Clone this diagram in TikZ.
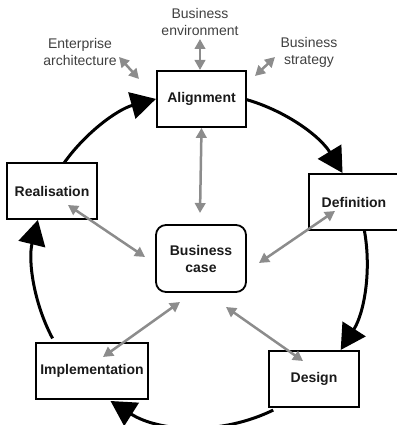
\documentclass[tikz,border=0pt]{standalone}
\usepackage{fontspec}
\setmainfont{Liberation Sans}
\usetikzlibrary{arrows.meta}
\definecolor{garrowc}{HTML}{8C8C8C}
\definecolor{labelc}{HTML}{404040}
\definecolor{boxtext}{HTML}{1A1A1A}
\begin{document}
\begin{tikzpicture}[x=1pt,y=1pt,
  stage/.style={draw=black, line width=1.8pt, fill=white, inner sep=0pt,
    minimum height=56pt, text=boxtext, font=\fontsize{14}{17}\selectfont\bfseries, align=center},
  hub/.style={stage, rounded corners=10pt, minimum width=90pt, minimum height=67pt},
  outlabel/.style={text=labelc, font=\fontsize{14}{17}\selectfont, align=center, inner sep=0pt},
  garrow/.style={draw=garrowc, line width=2.5pt, {Triangle[length=10pt,width=10.5pt]}-{Triangle[length=10pt,width=10.5pt]}},
  cycle arc/.style={draw=black, line width=3pt, -{Triangle[length=25pt,width=27pt]}}
]
\useasboundingbox (0,0) rectangle (396,425);
\coordinate (c) at (200,165);

% cycle arcs
\draw[cycle arc] ([shift={(146:167pt)}]c) arc[start angle=146, end angle=105.3, radius=167pt];
\draw[cycle arc] ([shift={(76:167pt)}]c) arc[start angle=76, end angle=31.4, radius=167pt];
\draw[cycle arc] ([shift={(12:167pt)}]c) arc[start angle=12, end angle=-32.6, radius=167pt];
\draw[cycle arc] ([shift={(-64:167pt)}]c) arc[start angle=-64, end angle=-122.4, radius=167pt];
\draw[cycle arc] ([shift={(-152:167pt)}]c) arc[start angle=-152, end angle=-193.9, radius=167pt];

% boxes
\node[stage, minimum width=89pt] (align) at (201.5,326) {Alignment};
\node[hub] (bc) at (201,166.5) {Business\\case};
\node[stage, minimum width=90pt] (real) at (52,234) {Realisation};
\node[stage, minimum width=90pt] (def) at (354,223) {Definition};
\node[stage, minimum width=112pt] (impl) at (92,54) {Implementation};
\node[stage, minimum width=90pt] (design) at (314,46) {Design};

% outer labels
\node[outlabel] (env) at (200,403) {Business\\environment};
\node[outlabel] (ea) at (80,373) {Enterprise\\architecture};
\node[outlabel] (strat) at (309,373) {Business\\strategy};

% gray arrow end points
\coordinate (ea1) at (119,368);
\coordinate (ea2) at (139,346);
\coordinate (env1) at (200,386);
\coordinate (env2) at (200,355);
\coordinate (st1) at (275,368);
\coordinate (st2) at (255,349);
\coordinate (ab2) at (200,212);
\coordinate (re1) at (68,220);
\coordinate (re2) at (145,168);
\coordinate (de1) at (335,214);
\coordinate (de2) at (259,162);
\coordinate (im1) at (180,123);
\coordinate (im2) at (103,68);
\coordinate (ds1) at (226,118);
\coordinate (ds2) at (303,64);

% gray arrows
\draw[garrow] (ea1) -- (ea2);
\draw[garrow] (env1) -- (env2);
\draw[garrow] (st1) -- (st2);
\draw[garrow] (align.south) -- (ab2);
\draw[garrow] (re1) -- (re2);
\draw[garrow] (de1) -- (de2);
\draw[garrow] (im1) -- (im2);
\draw[garrow] (ds1) -- (ds2);
\end{tikzpicture}
\end{document}
